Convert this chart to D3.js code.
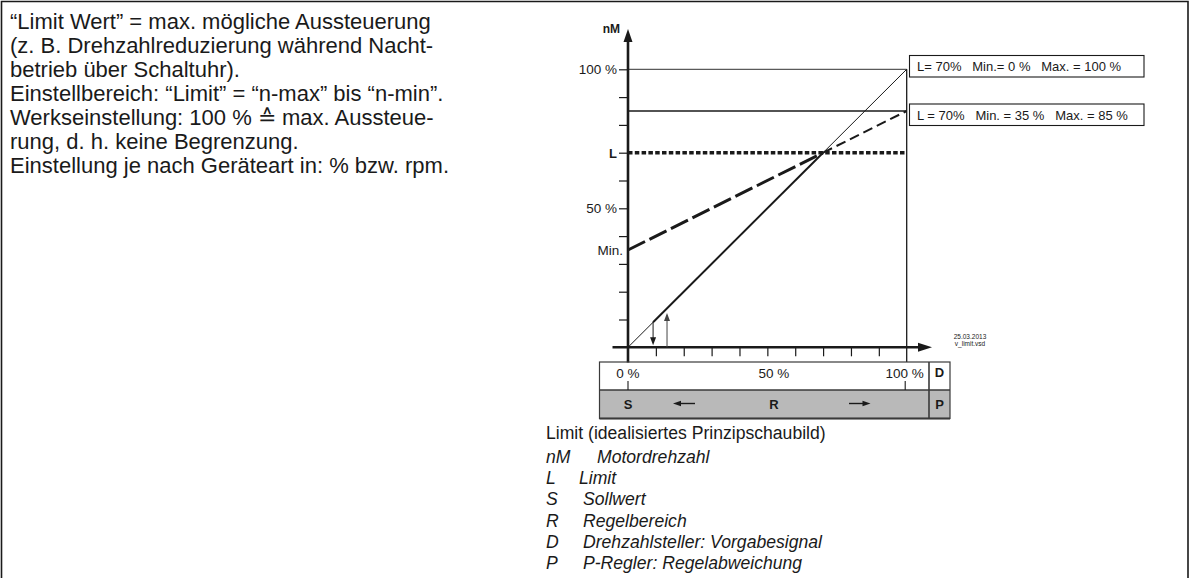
<!DOCTYPE html>
<html>
<head>
<meta charset="utf-8">
<script src="https://cdn.jsdelivr.net/npm/d3@7"></script>
<style>
  html, body { margin: 0; padding: 0; background: #fff; }
  svg { display: block; }
  text { font-family: "Liberation Sans", Arial, Helvetica, sans-serif; fill: #1a1a1a; }
</style>
</head>
<body>
<svg id="chart" width="1191" height="578"></svg>
<script>
// ---- Data ---------------------------------------------------------------
const notes = [
  "\u201CLimit Wert\u201D = max. m\u00F6gliche Aussteuerung",
  "(z. B. Drehzahlreduzierung w\u00E4hrend Nacht-",
  "betrieb \u00FCber Schaltuhr).",
  "Einstellbereich: \u201CLimit\u201D = \u201Cn-max\u201D bis \u201Cn-min\u201D.",
  "Werkseinstellung: 100 % \u2259 max. Aussteue-",
  "rung, d. h. keine Begrenzung.",
  "Einstellung je nach Ger\u00E4teart in: % bzw. rpm."
];
const yTickValues = [10, 20, 30, 40, 50, 60, 70, 80, 90, 100];
const xTickValues = [10, 20, 30, 40, 50, 60, 70, 80, 90];
const yLabelValues = [100, 70, 50, 35];
const yLabelTexts = ["100 %", "L", "50 %", "Min."];
const xLabelValues = [0, 50, 100];
const xLabelTexts = ["0 %", "50 %", "100 %"];
const limitValue = 70;
const settingA = { min: 0, max: 100 };   // L = 70 %, Min. 0 %, Max. 100 %
const settingB = { min: 35, max: 85 };   // L = 70 %, Min. 35 %, Max. 85 %
const boxTexts = ["L= 70%   Min.= 0 %   Max. = 100 %", "L = 70%   Min. = 35 %   Max. = 85 %"];
const stampTexts = ["25.03.2013", "v_limit.vsd"];
const legendKeys = ["nM", "L", "S", "R", "D", "P"];
const legendTexts = ["Motordrehzahl", "Limit", "Sollwert", "Regelbereich",
                     "Drehzahlsteller: Vorgabesignal", "P-Regler: Regelabweichung"];
const captionText = "Limit (idealisiertes Prinzipschaubild)";

// ---- Setup ----------------------------------------------------------------
const svg = d3.select("#chart");
const x = d3.scaleLinear().domain([0, 100]).range([628, 906.7]);
const y = d3.scaleLinear().domain([0, 100]).range([347.3, 69.3]);
const ink = "#1a1a1a";

// outer frame (open at the bottom)
svg.append("path")
  .attr("d", "M1.5,580 V1.5 H1188 V580")
  .attr("fill", "none").attr("stroke", ink).attr("stroke-width", 1.6);

// ---- Left description text --------------------------------------------
const notesG = svg.append("g").attr("transform", "translate(10,0)");
notesG.selectAll("text").data(notes).join("text")
  .attr("x", 0)
  .attr("y", (d, i) => 28.5 + i * 24.1)
  .attr("font-size", 22)
  .text(d => d);

// ---- Reference lines at 100 % and Max. (85 %) ------------------------------
svg.append("line")
  .attr("x1", x(0)).attr("x2", x(100))
  .attr("y1", y(settingA.max)).attr("y2", y(settingA.max))
  .attr("stroke", ink).attr("stroke-width", 0.9);
svg.append("line")
  .attr("x1", x(0)).attr("x2", x(100))
  .attr("y1", y(settingB.max)).attr("y2", y(settingB.max))
  .attr("stroke", ink).attr("stroke-width", 1.4);
// vertical 100 % line down into the scale box
svg.append("line")
  .attr("x1", x(100)).attr("x2", x(100))
  .attr("y1", y(100)).attr("y2", 362)
  .attr("stroke", ink).attr("stroke-width", 1.3);

// ---- Y ticks ---------------------------------------------------------------
const yAxis = d3.axisLeft(y).tickValues(yTickValues).tickSize(9).tickFormat("");
const yAxG = svg.append("g").attr("transform", `translate(${x(0)},0)`).call(yAxis);
yAxG.select(".domain").remove();
yAxG.selectAll(".tick line").attr("stroke", ink).attr("stroke-width", 1.2);

// Y labels
svg.selectAll("text.ylab").data(yLabelValues).join("text")
  .attr("class", "ylab")
  .attr("x", (d, i) => i === 3 ? 623 : 617)
  .attr("y", d => y(d) + 5)
  .attr("text-anchor", "end")
  .attr("font-size", (d, i) => i === 1 ? 13 : 13.5)
  .attr("font-weight", (d, i) => i === 1 ? "bold" : "normal")
  .text((d, i) => yLabelTexts[i]);

svg.append("text").attr("x", 620).attr("y", 33)
  .attr("text-anchor", "end").attr("font-size", 12).attr("font-weight", "bold")
  .text("nM");

// ---- X ticks ---------------------------------------------------------------
const xAxis = d3.axisBottom(x).tickValues(xTickValues).tickSize(9).tickFormat("");
const xAxG = svg.append("g").attr("transform", `translate(0,${y(0)})`).call(xAxis);
xAxG.select(".domain").remove();
xAxG.selectAll(".tick line").attr("stroke", ink).attr("stroke-width", 1.2);

// ---- Curves ----------------------------------------------------------------
const line = d3.line().x(d => x(d[0])).y(d => y(d[1]));

// Limit level (dotted)
svg.append("path")
  .attr("d", line([[0, limitValue], [100, limitValue]]))
  .attr("fill", "none").attr("stroke", ink)
  .attr("stroke-width", 3.4).attr("stroke-dasharray", "4.5,2.3");

// Setting A: Min 0 -> Max 100, thin full line, thick up to the limit
svg.append("path")
  .attr("d", line([[0, settingA.min], [100, settingA.max]]))
  .attr("fill", "none").attr("stroke", ink).attr("stroke-width", 1);
const crossA = (limitValue - settingA.min) / (settingA.max - settingA.min) * 100;
svg.append("path")
  .attr("d", line([[9, settingA.min + 0.09 * (settingA.max - settingA.min)], [crossA, limitValue]]))
  .attr("fill", "none").attr("stroke", ink).attr("stroke-width", 2);

// Setting B: Min 35 -> Max 85, long thick dashes up to the limit, then thinner dashes
const crossB = (limitValue - settingB.min) / (settingB.max - settingB.min) * 100;
svg.append("path")
  .attr("d", line([[0, settingB.min], [crossB, limitValue]]))
  .attr("fill", "none").attr("stroke", ink)
  .attr("stroke-width", 3).attr("stroke-dasharray", "19,5");
svg.append("path")
  .attr("d", line([[crossB, limitValue], [100, settingB.max]]))
  .attr("fill", "none").attr("stroke", ink)
  .attr("stroke-width", 2).attr("stroke-dasharray", "10,5");

// ---- Axes with arrowheads ---------------------------------------------------
svg.append("line")
  .attr("x1", x(0)).attr("x2", x(0)).attr("y1", 40).attr("y2", 362.5)
  .attr("stroke", ink).attr("stroke-width", 2.6);
svg.append("path")
  .attr("d", `M${x(0)},29 L${x(0) - 4.5},42 L${x(0) + 4.5},42 Z`)
  .attr("fill", ink);
svg.append("line")
  .attr("x1", 612.5).attr("x2", 920).attr("y1", y(0)).attr("y2", y(0))
  .attr("stroke", ink).attr("stroke-width", 2.4);
svg.append("path")
  .attr("d", `M932,${y(0)} L918,${y(0) - 4.5} L918,${y(0) + 4.5} Z`)
  .attr("fill", ink);

// small arrows near the origin
svg.append("line")
  .attr("x1", x(9)).attr("x2", x(9)).attr("y1", y(9)).attr("y2", y(0) - 8)
  .attr("stroke", ink).attr("stroke-width", 1);
svg.append("path")
  .attr("d", `M${x(9)},${y(0) - 2} L${x(9) - 3},${y(0) - 10} L${x(9) + 3},${y(0) - 10} Z`)
  .attr("fill", ink);
svg.append("line")
  .attr("x1", x(14)).attr("x2", x(14)).attr("y1", y(0)).attr("y2", y(11.5))
  .attr("stroke", "#444").attr("stroke-width", 1);
svg.append("path")
  .attr("d", `M${x(14)},${y(12) - 1} L${x(14) - 3},${y(12) + 7} L${x(14) + 3},${y(12) + 7} Z`)
  .attr("fill", "#444");

// ---- Setting boxes --------------------------------------------------------
const boxTop = [55.5, 104];
boxTexts.forEach((t, i) => {
  svg.append("rect")
    .attr("x", 909.5).attr("y", boxTop[i]).attr("width", 234.5).attr("height", 21.5)
    .attr("fill", "#fff").attr("stroke", ink).attr("stroke-width", 1.1);
  svg.append("text")
    .attr("x", 917).attr("y", boxTop[i] + 15.5)
    .attr("font-size", 13)
    .style("white-space", "pre")
    .text(t);
});

// file stamp
svg.selectAll("text.stamp").data(stampTexts).join("text")
  .attr("class", "stamp")
  .attr("x", 970).attr("y", (d, i) => 339 + i * 7)
  .attr("text-anchor", "middle").attr("font-size", 6.5)
  .text(d => d);

// ---- Scale box (D / P rows) ------------------------------------------------
const boxL = 599.5, boxR = 950, colD = 929;
const rowTop = 362, rowMid = 390, rowBot = 418.5;
svg.append("rect")
  .attr("x", boxL).attr("y", rowMid).attr("width", boxR - boxL).attr("height", rowBot - rowMid)
  .attr("fill", "#b9b9b9");
svg.append("rect")
  .attr("x", boxL).attr("y", rowTop).attr("width", boxR - boxL).attr("height", rowBot - rowTop)
  .attr("fill", "none").attr("stroke", "#3a3a3a").attr("stroke-width", 1.2);
svg.append("line").attr("x1", boxL).attr("x2", boxR).attr("y1", rowMid).attr("y2", rowMid)
  .attr("stroke", "#3a3a3a").attr("stroke-width", 1.4);
svg.append("line").attr("x1", boxL).attr("x2", boxR).attr("y1", rowBot).attr("y2", rowBot)
  .attr("stroke", "#3a3a3a").attr("stroke-width", 2);
svg.append("line").attr("x1", colD).attr("x2", colD).attr("y1", rowTop).attr("y2", rowBot)
  .attr("stroke", "#3a3a3a").attr("stroke-width", 1.6);

// box ticks at 0 % and 100 %
svg.selectAll("line.boxtick").data([0, 100]).join("line")
  .attr("class", "boxtick")
  .attr("x1", d => x(d) - (d === 100 ? 1.5 : 0)).attr("x2", d => x(d) - (d === 100 ? 1.5 : 0))
  .attr("y1", 381).attr("y2", rowMid)
  .attr("stroke", ink).attr("stroke-width", 1.1);

svg.selectAll("text.xlab").data(xLabelValues).join("text")
  .attr("class", "xlab")
  .attr("x", d => x(d) + (d === 50 ? 6.5 : (d === 100 ? -2 : 0)))
  .attr("y", 378)
  .attr("text-anchor", "middle").attr("font-size", 13.5)
  .text((d, i) => xLabelTexts[i]);

svg.append("text").attr("x", 939.5).attr("y", 376.5)
  .attr("text-anchor", "middle").attr("font-size", 13).attr("font-weight", "bold").text("D");
svg.append("text").attr("x", 939.5).attr("y", 408.5)
  .attr("text-anchor", "middle").attr("font-size", 13).attr("font-weight", "bold").text("P");
svg.append("text").attr("x", x(0)).attr("y", 409)
  .attr("text-anchor", "middle").attr("font-size", 13).attr("font-weight", "bold").text("S");
svg.append("text").attr("x", x(50) + 6.5).attr("y", 408.5)
  .attr("text-anchor", "middle").attr("font-size", 13).attr("font-weight", "bold").text("R");

// direction arrows in the P row
function hArrow(x1, x2, yy) {
  const dir = Math.sign(x2 - x1);
  svg.append("line").attr("x1", x1).attr("x2", x2 - dir * 6).attr("y1", yy).attr("y2", yy)
    .attr("stroke", ink).attr("stroke-width", 1.4);
  svg.append("path")
    .attr("d", `M${x2},${yy} L${x2 - dir * 8},${yy - 2.8} L${x2 - dir * 8},${yy + 2.8} Z`)
    .attr("fill", ink);
}
hArrow(695, 673, 403.5);
hArrow(849, 870.5, 403.5);

// ---- Caption and legend ---------------------------------------------------
svg.append("text").attr("x", 546).attr("y", 439)
  .attr("font-size", 17.6).text(captionText);

const legG = svg.append("g");
legG.selectAll("text.key").data(legendKeys).join("text")
  .attr("class", "key")
  .attr("x", 546).attr("y", (d, i) => 463 + i * 21.2)
  .attr("font-size", 17.6).attr("font-style", "italic")
  .text(d => d);
legG.selectAll("text.desc").data(legendTexts).join("text")
  .attr("class", "desc")
  .attr("x", (d, i) => i === 0 ? 597 : (i === 1 ? 579 : 583))
  .attr("y", (d, i) => 463 + i * 21.2)
  .attr("font-size", 17.6).attr("font-style", "italic")
  .text(d => d);
</script>
</body>
</html>
